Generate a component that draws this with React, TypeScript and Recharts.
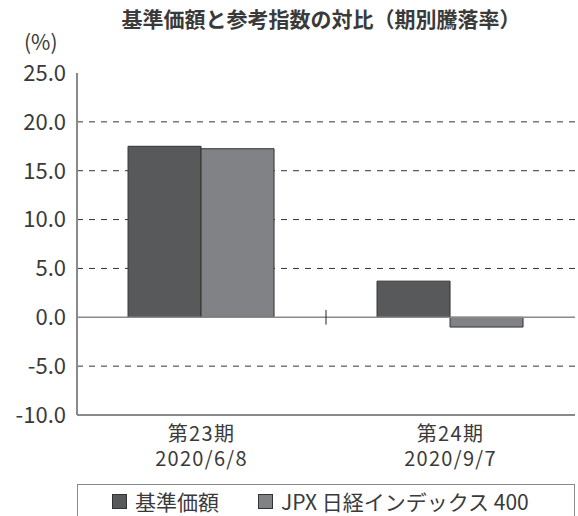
import React from 'react';
import { BarChart, Bar, XAxis, YAxis, CartesianGrid, ReferenceLine, Legend } from 'recharts';

const periods = ['第23期', '第24期'];
const dates = ['2020/6/8', '2020/9/7'];
const fundReturns = [17.5, 3.7];
const indexReturns = [17.25, -1.0];
const yTicks = [-10, -5, 0, 5, 10, 15, 20, 25];
const gridValues = [-5, 5, 10, 15, 20];
const seriesNames = ['基準価額', 'JPX 日経インデックス 400'];

const data = periods.map((p, i) => ({ name: p, date: dates[i], fund: fundReturns[i], index: indexReturns[i] }));

const FONT = '"Noto Sans CJK JP", "Noto Sans", sans-serif';
const TEXT = '#3a3a3a';
const FRAME = '#8a8a8a';
const DARK = '#58595b';
const LIGHT = '#808285';

const XTick = (props: any) => {
  const { x, y, payload, index } = props;
  const i = typeof payload?.index === 'number' ? payload.index : index;
  return (
    <g>
      <text x={x} y={y + 26} textAnchor="middle" fill={TEXT} fontSize={20} fontFamily={FONT} letterSpacing={1.3}>
        {periods[i]}
      </text>
      <text x={x} y={y + 51} textAnchor="middle" fill={TEXT} fontSize={20} fontFamily={FONT} letterSpacing={1.3}>
        {dates[i]}
      </text>
    </g>
  );
};

const renderLegend = (props: any) => {
  const payload = [...(props.payload || [])].sort(
    (a: any, b: any) => seriesNames.indexOf(a.value) - seriesNames.indexOf(b.value)
  );
  return (
    <div
      style={{
        boxSizing: 'border-box',
        width: 498,
        height: 40,
        border: `1px solid ${FRAME}`,
        display: 'flex',
        alignItems: 'flex-start',
        paddingLeft: 34,
        paddingTop: 2,
        fontFamily: FONT,
        fontSize: 21,
        color: TEXT,
      }}
    >
      {payload.map((entry: any, k: number) => (
        <div key={k} style={{ display: 'flex', alignItems: 'center', marginRight: 39, height: 28 }}>
          <span
            style={{
              display: 'inline-block',
              width: 13,
              height: 13,
              background: entry.color,
              border: '1px solid #333',
              marginRight: 8,
            }}
          />
          <span>{entry.value}</span>
        </div>
      ))}
    </div>
  );
};

export default function App() {
  return (
    <div style={{ position: 'absolute', left: 0, top: 0, width: 578, height: 516, overflow: 'hidden', background: '#fff' }}>
      <div
        style={{
          position: 'absolute',
          left: 0,
          width: 642,
          top: 5,
          textAlign: 'center',
          fontFamily: FONT,
          fontWeight: 'bold',
          fontSize: 21,
          lineHeight: '26px',
          color: TEXT,
        }}
      >
        基準価額と参考指数の対比（期別騰落率）
      </div>
      <div
        style={{
          position: 'absolute',
          left: 24,
          top: 31,
          fontFamily: FONT,
          fontSize: 21,
          lineHeight: '21px',
          color: TEXT,
        }}
      >
        (%)
      </div>
      <BarChart
        width={578}
        height={516}
        data={data}
        margin={{ top: 73, right: 3, left: 0, bottom: 0 }}
        barCategoryGap="20.5%"
        barGap={0}
      >
        <CartesianGrid
          vertical={false}
          horizontalValues={gridValues}
          stroke="#333"
          strokeDasharray="6 6"
        />
        <XAxis
          dataKey="name"
          height={101}
          tickLine={false}
          tickSize={0}
          tickMargin={0}
          axisLine={{ stroke: FRAME, strokeWidth: 2 }}
          tick={<XTick />}
          interval={0}
        />
        <XAxis xAxisId="top" orientation="top" dataKey="name" height={0} tick={false} tickLine={false} axisLine={{ stroke: FRAME, strokeWidth: 2 }} />
        <YAxis
          domain={[-10, 25]}
          ticks={yTicks}
          width={77}
          tickLine={false}
          tickSize={0}
          tickMargin={11}
          axisLine={{ stroke: FRAME, strokeWidth: 2 }}
          tick={{ fill: TEXT, fontSize: 22, fontFamily: FONT }}
          tickFormatter={(v: number) => v.toFixed(1)}
          interval={0}
        />
        <YAxis yAxisId="right" orientation="right" domain={[-10, 25]} width={0} tick={false} tickLine={false} axisLine={{ stroke: FRAME, strokeWidth: 2 }} />
        <ReferenceLine y={0} stroke={FRAME} strokeWidth={1.5} />
        <Bar dataKey="fund" name={seriesNames[0]} fill={DARK} stroke="#333" strokeWidth={1} isAnimationActive={false} />
        <Bar dataKey="index" name={seriesNames[1]} fill={LIGHT} stroke="#333" strokeWidth={1} isAnimationActive={false} />
        <ReferenceLine
          segment={[{ x: periods[1], y: -0.75 }, { x: periods[1], y: 0.75 }]}
          position="start"
          stroke="#222"
          strokeWidth={1}
        />
        <Legend
          layout="horizontal"
          verticalAlign="middle"
          align="center"
          content={renderLegend}
          wrapperStyle={{ position: 'absolute', left: 77, top: 484, width: 498, height: 40 }}
        />
      </BarChart>
    </div>
  );
}
